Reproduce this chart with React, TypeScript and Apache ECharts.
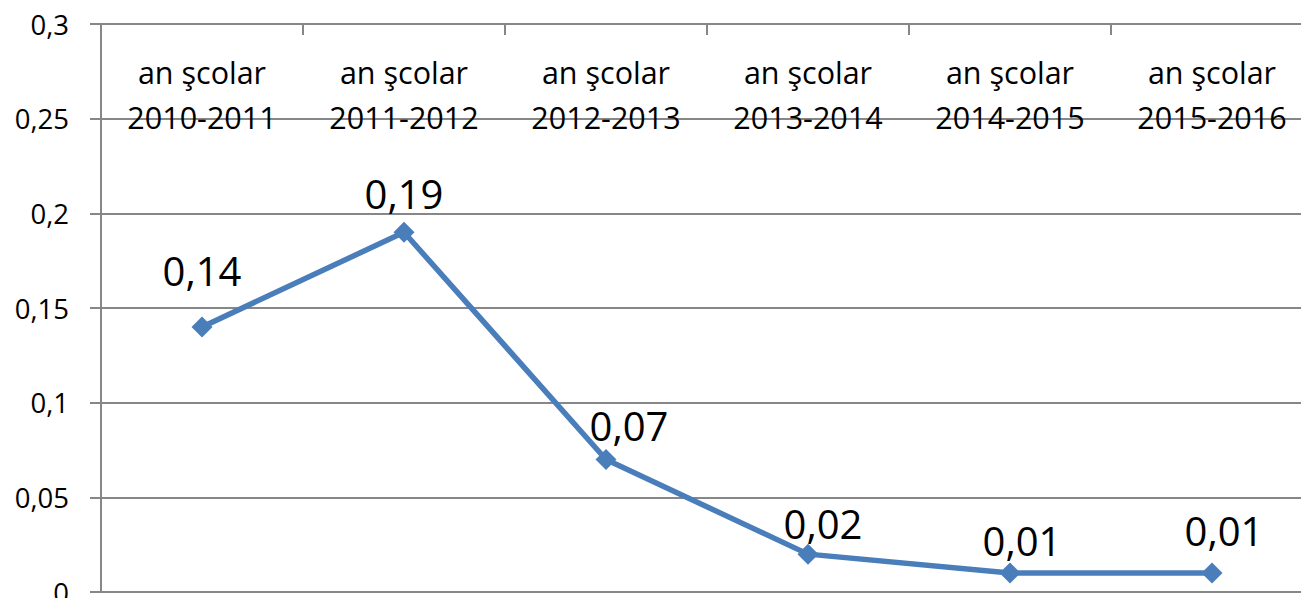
import React, { useEffect, useRef } from "react";
import * as echarts from "echarts";

const categories = [
  "an şcolar\n2010-2011",
  "an şcolar\n2011-2012",
  "an şcolar\n2012-2013",
  "an şcolar\n2013-2014",
  "an şcolar\n2014-2015",
  "an şcolar\n2015-2016",
];
const values = [0.14, 0.19, 0.07, 0.02, 0.01, 0.01];
const yMin = 0;
const yMax = 0.3;
const yInterval = 0.05;

// label placement (layout, not data): offsets of each data label from its point
const labelOffsets: [number, number][] = [
  [0, -56],
  [0, -39],
  [23, -34],
  [15, -31],
  [12, -33],
  [12, -43],
];

const FONT = "'Open Sans', 'DejaVu Sans', sans-serif";
const comma = (v: number) => String(Math.round(v * 1000) / 1000).replace(".", ",");

export default function App() {
  const ref = useRef<HTMLDivElement>(null);
  useEffect(() => {
    if (!ref.current) return;
    const chart = echarts.init(ref.current, undefined, { renderer: "svg" });
    chart.setOption({
      animation: false,
      backgroundColor: "#ffffff",
      grid: {
        left: 101,
        top: 24,
        width: 1212,
        height: 568,
        containLabel: false,
        outerBoundsMode: "none",
      },
      xAxis: {
        type: "category",
        data: categories,
        position: "top",
        boundaryGap: true,
        axisLine: { show: true, onZero: false, lineStyle: { color: "#878787", width: 2 } },
        axisTick: { show: true, inside: true, length: 11, lineStyle: { color: "#878787", width: 2 } },
        axisLabel: {
          inside: true,
          margin: 25,
          fontFamily: FONT,
          fontSize: 30.5,
          lineHeight: 45,
          color: "#000000",
          interval: 0,
        },
        splitLine: { show: false },
      },
      yAxis: {
        type: "value",
        min: yMin,
        max: yMax,
        interval: yInterval,
        axisLine: { show: true, lineStyle: { color: "#878787", width: 2 } },
        axisTick: { show: true, length: 11, lineStyle: { color: "#878787", width: 2 } },
        axisLabel: {
          margin: 32,
          fontFamily: FONT,
          fontSize: 27.5,
          color: "#000000",
          formatter: (v: number) => comma(v),
        },
        splitLine: { show: true, lineStyle: { color: "#878787", width: 2 } },
      },
      series: [
        {
          type: "line",
          data: values.map((v, i) => ({
            value: v,
            label: { offset: labelOffsets[i] },
          })),
          symbol: "diamond",
          symbolSize: 21,
          lineStyle: { color: "#4a7ebb", width: 5.5 },
          itemStyle: { color: "#4a7ebb" },
          label: {
            show: true,
            position: "inside",
            fontFamily: FONT,
            fontSize: 40,
            color: "#000000",
            formatter: (p: any) => comma(p.value),
          },
        },
      ],
    });
    return () => chart.dispose();
  }, []);
  return (
    <div
      ref={ref}
      style={{ position: "fixed", left: 0, top: 0, width: 1301, height: 598, background: "#fff" }}
    />
  );
}
